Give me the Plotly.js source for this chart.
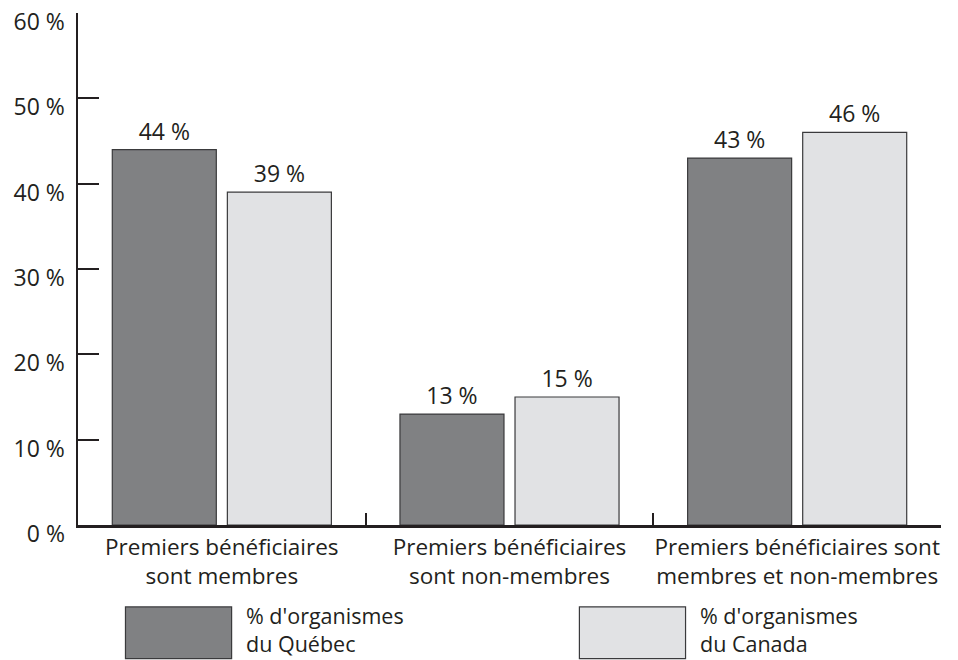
<!DOCTYPE html>
<html><head><meta charset="utf-8">
<script src="https://cdn.plot.ly/plotly-3.0.1.min.js"></script>
<style>html,body{margin:0;padding:0;background:#fff}#chart{width:958px;height:660px}</style>
</head><body><div id="chart"></div>
<script>
const categories = ["Premiers bénéficiaires<br>sont membres", "Premiers bénéficiaires<br>sont non-membres", "Premiers bénéficiaires sont<br>membres et non-membres"];
const quebec = [44, 13, 43];
const canada = [39, 15, 46];
const seriesNames = ["% d'organismes<br>du Québec", "% d'organismes<br>du Canada"];
const tickVals = [0, 10, 20, 30, 40, 50, 60];
const tickText = ["0 %", "10 %", "20 %", "30 %", "40 %", "50 %", "60 %"];
const colors = ["#808183", "#e1e2e4"];
const ink = "#231f20";
const font = "Open Sans, Noto Sans, sans-serif";

function fmt(v){ return v + " %"; }

const traces = [quebec, canada].map((vals, i) => ({
  type: "bar", x: categories, y: vals, name: seriesNames[i],
  marker: {color: colors[i], line: {color: "#3a3a3c", width: 1.2}},
  text: vals.map(fmt), textposition: "outside", cliponaxis: false,
  textfont: {family: font, size: 23, color: ink},
  hoverinfo: "skip", showlegend: false
}));

const shapes = [], annotations = [];
const legX = [[0.055, 0.178], [0.581, 0.704]];
seriesNames.forEach((n, i) => {
  shapes.push({type: "rect", xref: "paper", yref: "paper",
    x0: legX[i][0], x1: legX[i][1], y0: -0.261, y1: -0.160,
    fillcolor: colors[i], line: {color: "#3a3a3c", width: 1.2}});
  annotations.push({xref: "paper", yref: "paper", x: legX[i][1] + 0.016, y: -0.204,
    xanchor: "left", yanchor: "middle", text: n, showarrow: false, align: "left",
    borderpad: 0,
    font: {family: font, size: 21.5, color: ink}});
});

const layout = {
  width: 958, height: 660,
  margin: {l: 78, r: 17, t: 13, b: 135},
  paper_bgcolor: "#fff", plot_bgcolor: "#fff",
  barmode: "group", bargap: 0.2, bargroupgap: 0.096,
  font: {family: font, size: 22.5, color: ink},
  xaxis: {type: "category", tickson: "boundaries", ticks: "inside", ticklen: 12, tickwidth: 2,
    tickangle: 0, automargin: false,
    tickcolor: ink, showline: true, linecolor: ink, linewidth: 2.5, showgrid: false,
    range: [-0.5, 2.5], tickfont: {family: font, size: 22.5, color: ink}, fixedrange: true},
  yaxis: {range: [0, 60], tickvals: tickVals, ticktext: tickText, ticks: "inside", ticklen: 21,
    tickwidth: 2, tickcolor: ink, showline: true, linecolor: ink, linewidth: 2.5,
    showgrid: false, zeroline: false, ticklabelstandoff: 6, ticklabelshift: 9, automargin: false,
    tickfont: {family: font, size: 23, color: ink}, fixedrange: true},
  shapes: shapes, annotations: annotations
};

Plotly.newPlot("chart", traces, layout, {displayModeBar: false, staticPlot: true});
</script></body></html>
